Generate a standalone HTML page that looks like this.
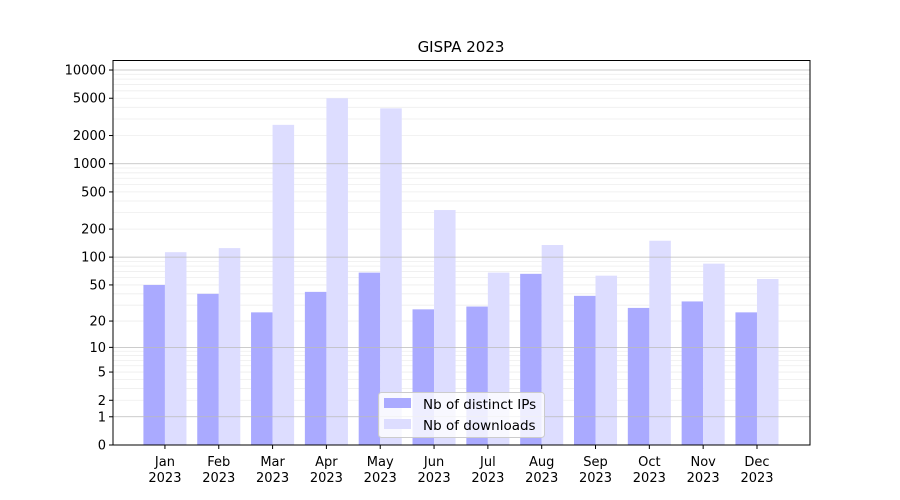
<!DOCTYPE html>
<html><head><meta charset="utf-8"><style>body{margin:0;background:#fff}svg{display:block;font-family:"DejaVu Sans","Liberation Sans",sans-serif}</style></head>
<body>
<svg id="chart" width="900" height="500">
<text x="461" y="52" text-anchor="middle" font-size="15">GISPA 2023</text>
<g id="grid"></g><g id="bars"></g><g id="gridover"></g>
<rect x="113" y="60.5" width="697" height="384.5" fill="none" stroke="#000" stroke-width="1"/>
<g id="yaxis"></g><g id="xaxis"></g>
<g>
<rect x="378.5" y="392.5" width="166" height="45" rx="3" fill="#fff" fill-opacity="0.8" stroke="#ccc"/>
<rect x="384" y="398" width="27" height="10" fill="#aaaaff"/>
<text x="423" y="409" font-size="13.5">Nb of distinct IPs</text>
<rect x="384" y="419" width="27" height="10" fill="#ddddff"/>
<text x="423" y="430" font-size="13.5">Nb of downloads</text>
</g>
</svg>
<script>
const months=["Jan","Feb","Mar","Apr","May","Jun","Jul","Aug","Sep","Oct","Nov","Dec"];
const ips=[50,40,25,42,68,27,29,66,38,28,33,25];
const downloads=[113,125,2600,5000,3900,320,68,135,63,150,85,58];
const yTicks=[0,1,2,5,10,20,50,100,200,500,1000,2000,5000,10000];
const NS="http://www.w3.org/2000/svg";
const X0=113,X1=810,Y0=445,Y1=60,xmin=-0.965,xmax=11.985,ymax=4.107;
const xs=i=>X0+(i-xmin)/(xmax-xmin)*(X1-X0);
const ys=v=>Y0-Math.log10(1+v)/ymax*(Y0-Y1);
function mk(tag,attrs,parent,txt){const e=document.createElementNS(NS,tag);for(const k in attrs)e.setAttribute(k,attrs[k]);if(txt!==undefined)e.textContent=txt;parent.appendChild(e);return e;}
const grid=document.getElementById('grid'),bars=document.getElementById('bars'),go=document.getElementById('gridover');
for(let d=1;d<=10000;d*=10){for(let m=1;m<10;m++){const v=d*m;if(v>10500)break;const y=ys(v);
const l=mk('line',{x1:X0,x2:X1,y1:y,y2:y,stroke:m===1?'#bbb':'#eee','stroke-width':m===1?0.8:0.8},m===1?go:grid);

}}
const bw=(xs(0.4)-xs(0));
months.forEach((m,i)=>{
const r1=mk('rect',{x:xs(i)-bw,y:ys(ips[i]),width:bw,height:Y0-ys(ips[i]),fill:'#aaaaff'},bars);


const r2=mk('rect',{x:xs(i),y:ys(downloads[i]),width:bw,height:Y0-ys(downloads[i]),fill:'#ddddff'},bars);


});
const ya=document.getElementById('yaxis'),xa=document.getElementById('xaxis');
yTicks.forEach(v=>{const y=ys(v);
mk('line',{x1:X0-4,x2:X0,y1:y,y2:y,stroke:'#000'},ya);
const t=mk('text',{x:X0-7,y:y+4.5,'text-anchor':'end','font-size':13},ya,String(v));

});
months.forEach((m,i)=>{const x=xs(i);
mk('line',{x1:x,x2:x,y1:Y0,y2:Y0+4,stroke:'#000'},xa);
const t=mk('text',{x:x,y:466,'text-anchor':'middle','font-size':13},xa,m);


const t2=mk('text',{x:x,y:482,'text-anchor':'middle','font-size':13},xa,'2023');

});
</script>
</body></html>
